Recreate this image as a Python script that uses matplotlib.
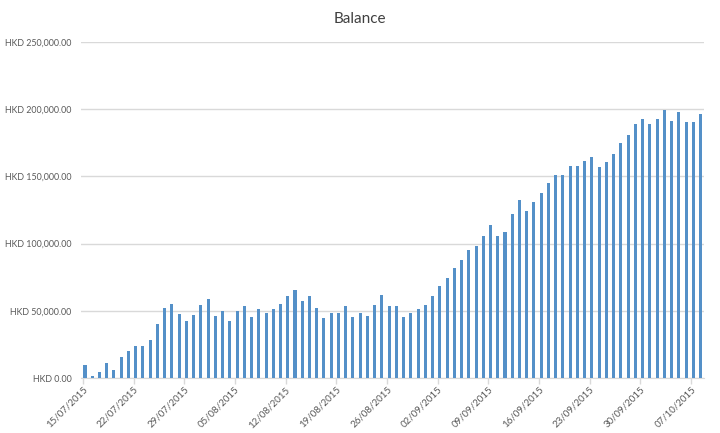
import numpy as np
import pandas as pd
import matplotlib
matplotlib.use("Agg")
import matplotlib.pyplot as plt
from matplotlib.ticker import FuncFormatter

plt.rcParams['font.family'] = ['Lato', 'DejaVu Sans']

# daily balance, 15/07/2015 .. 08/10/2015
dates = pd.date_range("2015-07-15", "2015-10-08", freq="D")
balance = [
    9500, 1500, 4500, 11000, 6000, 15500, 20000, 24000, 24000, 28000,
    40000, 52000, 55000, 47500, 42500, 47000, 54000, 58500, 46000, 50000,
    42500, 50000, 53500, 45500, 51500, 48000, 51000, 55000, 61000, 65500,
    57000, 61000, 52000, 45000, 48000, 48000, 53500, 45500, 48000, 46000,
    54500, 62000, 53500, 53500, 45700, 48500, 51500, 54500, 61200, 68700,
    74700, 81500, 87500, 95000, 98000, 105500, 113700, 105500, 108500, 122200,
    132500, 124200, 131000, 137600, 144800, 151200, 151200, 158000, 158000, 161700,
    164700, 157200, 161000, 167000, 174600, 181000, 189000, 192500, 189000, 192500,
    199300, 191000, 197800, 190300, 190300, 196300,
]
y_ticks = [0, 50000, 100000, 150000, 200000, 250000]

bar_color = '#5490C8'
text_color = '#595959'
grid_color = '#D9D9D9'

fig = plt.figure(figsize=(7.2, 4.33), dpi=100)
ax = fig.add_axes([0.1125, 0.127, 0.865, 0.776])

x = np.arange(len(balance))
ax.bar(x, balance, width=0.42, color=bar_color, zorder=3)

ax.set_xlim(-0.55, len(balance) - 0.55)
ax.set_ylim(0, 250000)
ax.set_yticks(y_ticks)
ax.yaxis.set_major_formatter(FuncFormatter(lambda v, p: "HKD {:,.2f}".format(v)))
ax.grid(axis='y', color=grid_color, linewidth=1, zorder=0)

tick_idx = list(range(0, len(balance), 7))
ax.set_xticks([i - 0.3 for i in tick_idx])
ax.set_xticklabels([dates[i].strftime('%d/%m/%Y') for i in tick_idx],
                   rotation=45, ha='right', rotation_mode='anchor')

for side in ['top', 'right', 'left']:
    ax.spines[side].set_visible(False)
ax.spines['bottom'].set_color(grid_color)

ax.tick_params(axis='y', length=0, pad=7, labelsize=6.4, labelcolor=text_color)
ax.tick_params(axis='x', length=4, width=1, color=grid_color, pad=1,
               labelsize=7, labelcolor=text_color)

fig.text(0.5, 0.957, "Balance", ha='center', va='center', fontsize=11, color='#404040')

fig.savefig("out.png", dpi=100)
